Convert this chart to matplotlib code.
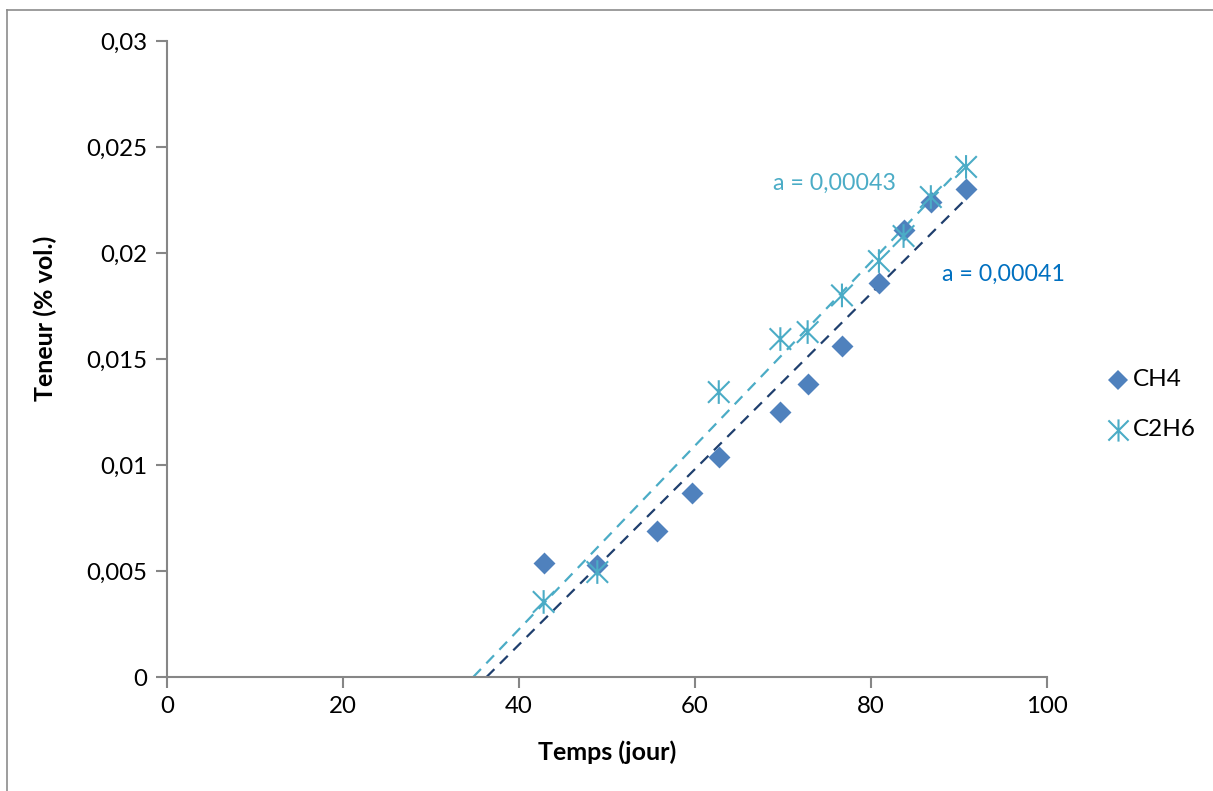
import numpy as np
import matplotlib
matplotlib.use("Agg")
import matplotlib.pyplot as plt
from matplotlib.path import Path
from matplotlib.lines import Line2D
from matplotlib.ticker import FuncFormatter

plt.rcParams['font.family'] = ['Lato', 'DejaVu Sans']

# ---- data ----
ch4_x = [42.8, 48.9, 55.7, 59.7, 62.7, 69.7, 72.8, 76.7, 80.9, 83.7, 86.8, 90.8]
ch4_y = [0.0054, 0.0053, 0.0069, 0.0087, 0.0104, 0.0125, 0.0138, 0.0156, 0.0186, 0.0211, 0.0224, 0.0230]
c2h6_x = [42.8, 48.9, 62.7, 69.7, 72.8, 76.7, 80.9, 83.7, 86.8, 90.8]
c2h6_y = [0.00354, 0.00495, 0.01344, 0.01594, 0.01627, 0.0180, 0.01962, 0.0208, 0.02264, 0.02406]
slope_labels = ["a = 0,00041", "a = 0,00043"]
x_ticks = [0, 20, 40, 60, 80, 100]
y_ticks = [0, 0.005, 0.01, 0.015, 0.02, 0.025, 0.03]

W, H = 1213, 791
fig = plt.figure(figsize=(W / 100, H / 100), dpi=100)

# outer chart frame (left and top visible)
fig.add_artist(Line2D([7 / W, 7 / W], [0, 1 - 10 / H], color='#8c8c8c', lw=1.2, transform=fig.transFigure))
fig.add_artist(Line2D([7 / W, 1], [1 - 10 / H, 1 - 10 / H], color='#8c8c8c', lw=1.2, transform=fig.transFigure))

ax = fig.add_axes([167 / W, 1 - 677 / H, (1047 - 167) / W, (677 - 41) / H])

# asterisk marker (X + vertical line)
ast = Path([(-0.5, -0.5), (0.5, 0.5), (-0.5, 0.5), (0.5, -0.5), (0, -0.55), (0, 0.55)],
           [Path.MOVETO, Path.LINETO, Path.MOVETO, Path.LINETO, Path.MOVETO, Path.LINETO])

ch4_col = '#4F81BD'
c2h6_col = '#4BACC6'
ch4_line = '#1F3F6E'

# trendlines
for xs, ys, col in [(ch4_x, ch4_y, ch4_line), (c2h6_x, c2h6_y, c2h6_col)]:
    a, b = np.polyfit(xs, ys, 1)
    x0 = -b / a
    x1 = max(xs)
    ax.plot([x0, x1], [a * x0 + b, a * x1 + b], color=col, lw=1.6, dashes=(5, 3.5), zorder=2)

ax.scatter(ch4_x, ch4_y, marker='D', s=125, color=ch4_col, linewidths=0, zorder=3, label='CH4')
ax.scatter(c2h6_x, c2h6_y, marker=ast, s=290, facecolors='none', edgecolors=c2h6_col,
           linewidths=1.5, zorder=4, label='C2H6')

ax.text(75.8, 0.0233, slope_labels[1], color='#4BACC6', fontsize=16.7, ha='center', va='center')
ax.text(95.1, 0.0190, slope_labels[0], color='#0070C0', fontsize=16.7, ha='center', va='center')

ax.set_xlim(0, 100)
ax.set_ylim(0, 0.03)
ax.set_xticks(x_ticks)
ax.set_yticks(y_ticks)
ax.yaxis.set_major_formatter(FuncFormatter(lambda v, p: ('%g' % round(v, 4)).replace('.', ',')))
for s in ['top', 'right']:
    ax.spines[s].set_visible(False)
for s in ['left', 'bottom']:
    ax.spines[s].set_color('#868686')
    ax.spines[s].set_linewidth(1.5)
ax.tick_params(axis='both', direction='out', length=8, width=1.5, color='#868686',
               labelsize=17.3, labelcolor='black', pad=6)

fig.text(607 / W, 1 - 752 / H, 'Temps (jour)', fontsize=18, fontweight='bold', ha='center', va='center')
fig.text(45 / W, 1 - 318 / H, 'Teneur (% vol.)', fontsize=18, fontweight='bold', ha='center', va='center',
         rotation=90)

# legend
fig.add_artist(Line2D([1118 / W], [1 - 380 / H], marker='D', markersize=10, color=ch4_col, lw=0,
                      markeredgewidth=0, transform=fig.transFigure))
fig.add_artist(Line2D([1118 / W], [1 - 430 / H], marker=ast, markersize=16, color=c2h6_col, lw=0,
                      markeredgewidth=1.5, markerfacecolor='none', transform=fig.transFigure))
fig.text(1133 / W, 1 - 380 / H, 'CH4', fontsize=17.5, ha='left', va='center')
fig.text(1133 / W, 1 - 430 / H, 'C2H6', fontsize=17.5, ha='left', va='center')

fig.savefig('out.png', dpi=100, facecolor='white')
